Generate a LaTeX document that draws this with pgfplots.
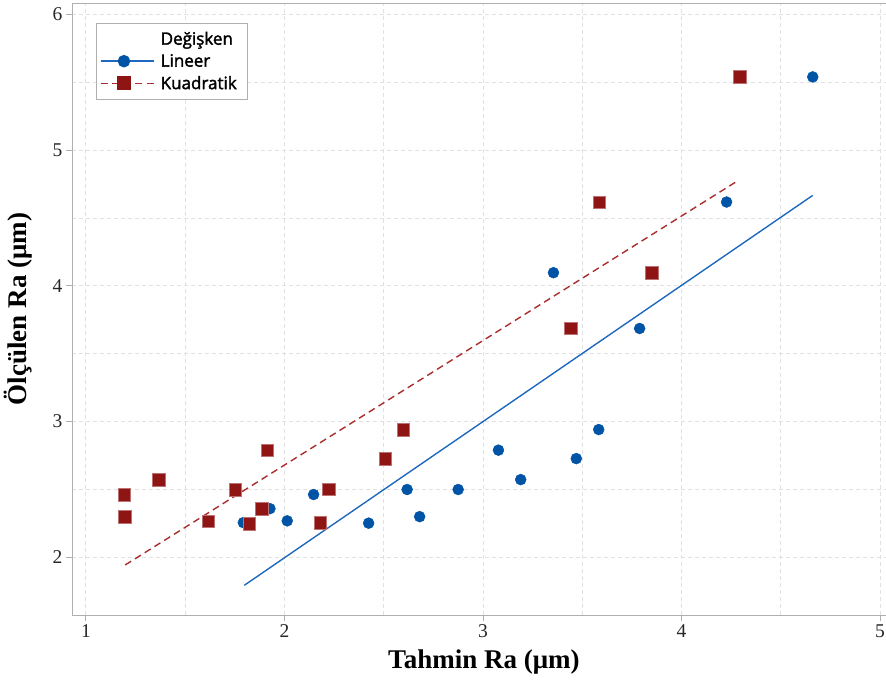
\documentclass[border=0pt]{standalone}
\usepackage{fontspec}
\setmainfont{Liberation Serif}
\newfontfamily\legfont{Open Sans}[FakeBold=2]
\usepackage{pgfplots}
\pgfplotsset{compat=1.18}

\definecolor{linblue}{RGB}{0,84,166}
\definecolor{linline}{RGB}{30,105,190}
\definecolor{quadred}{RGB}{143,20,20}
\definecolor{quadline}{RGB}{170,45,45}
\definecolor{axgray}{RGB}{175,175,175}
\definecolor{gridgray}{RGB}{225,225,225}

\pgfplotstableread{
x y
1.793 2.255
1.927 2.358
2.014 2.268
2.147 2.462
2.424 2.251
2.618 2.499
2.681 2.299
2.875 2.499
3.078 2.789
3.190 2.572
3.355 4.097
3.470 2.727
3.583 2.941
3.789 3.686
4.227 4.618
4.661 5.540
}\lineer

\pgfplotstableread{
x y
1.193 2.459
1.196 2.297
1.367 2.570
1.615 2.265
1.751 2.496
1.822 2.248
1.886 2.356
1.912 2.789
2.180 2.255
2.223 2.499
2.507 2.727
2.598 2.939
3.586 4.618
3.851 4.097
3.442 3.686
4.294 5.540
}\kuadratik

\begin{document}
\begin{tikzpicture}
\begin{axis}[
  name=ax,
  width=814pt, height=612pt, scale only axis,
  xmin=0.93, xmax=5.03, ymin=1.574, ymax=6.085,
  axis x line*=box, axis y line*=left,
  axis line style={draw=axgray, line width=0.9pt, -},
  xtick={1,2,3,4,5}, ytick={2,3,4,5,6},
  minor xtick={1.5,2.5,3.5,4.5}, minor ytick={2.5,3.5,4.5,5.5},
  xtick pos=bottom, ytick pos=left,
  tick align=outside, major tick length=6pt, minor tick length=0pt,
  tick style={draw=axgray, line width=0.9pt},
  grid=both,
  major grid style={draw=gridgray, dash pattern=on 4pt off 3pt, line width=0.9pt},
  minor grid style={draw=gridgray, dash pattern=on 4pt off 3pt, line width=0.9pt},
  /pgf/number format/assume math mode=true,
  ticklabel style={font=\fontsize{19.5}{19.5}\selectfont, text=black!85},
  xlabel={\bfseries Tahmin Ra (μm)},
  ylabel={\bfseries Ölçülen Ra (μm)},
  xlabel style={font=\fontsize{27}{27}\selectfont, at={(axis description cs:0.506,-0.0882)}, anchor=base},
  ylabel style={font=\fontsize{27}{27}\selectfont, at={(axis description cs:-0.056,0.5)}, anchor=base},
  legend cell align=left,
  legend style={at={(axis description cs:0.0295,0.968)}, anchor=north west,
    draw=axgray, fill=white,
    font=\legfont\fontsize{17}{17}\selectfont,
    inner xsep=4pt, inner ysep=7pt, row sep=4pt,
    nodes={inner xsep=6pt}},
  legend image code/.code={%
    \path (0pt,0pt) -- (53pt,0pt);
    \draw[mark repeat=2,mark phase=2] plot coordinates {(0pt,0pt) (23pt,0pt) (46pt,0pt)};},
]
\addlegendimage{empty legend}
\addlegendentry{Değişken\hspace{8pt}}
\addlegendimage{color=linline, line width=1.5pt, mark=*, mark size=5.5pt, mark options={solid, fill=linblue, draw=linblue}}
\addlegendentry{Lineer}
\addlegendimage{color=quadline, line width=1.5pt, dash pattern=on 7pt off 4.5pt, mark=square*, mark size=6.2pt, mark options={solid, fill=quadred, draw=quadred}}
\addlegendentry{Kuadratik\hspace{8pt}}

\addplot[forget plot, color=linline, line width=1.4pt] coordinates {(1.798,1.793) (4.661,4.667)};
\addplot[forget plot, color=quadline, line width=1.4pt, dash pattern=on 7pt off 4.5pt] coordinates {(1.198,1.943) (4.289,4.780)};
\addplot[forget plot, only marks, mark=*, mark size=5.5pt, mark options={fill=linblue, draw=linblue}] table[x=x,y=y] {\lineer};
\addplot[forget plot, only marks, mark=square*, mark size=6.2pt, mark options={fill=quadred, draw=quadred!60!white, line width=0.5pt}] table[x=x,y=y] {\kuadratik};
\end{axis}
\pgfresetboundingbox
\useasboundingbox ([xshift=-72pt,yshift=-71pt]ax.south west) rectangle ([yshift=3pt]ax.north east);
\end{tikzpicture}
\end{document}
